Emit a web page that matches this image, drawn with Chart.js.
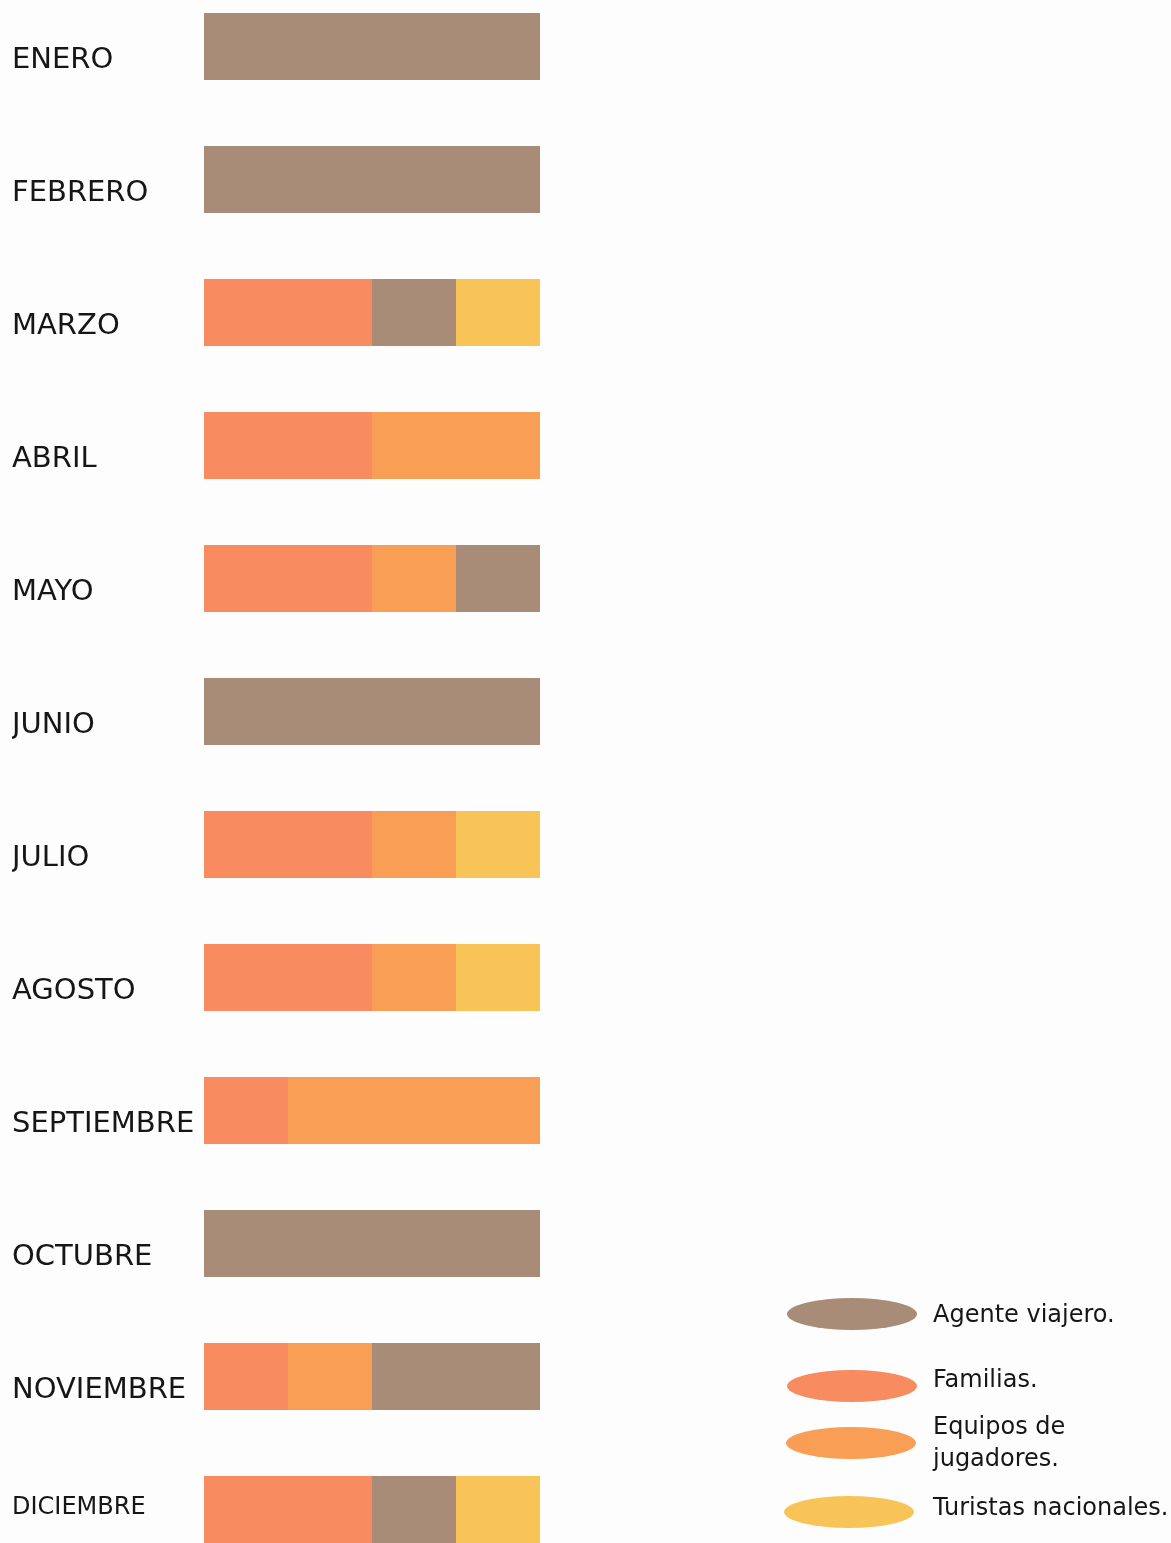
<!DOCTYPE html>
<html>
<head>
<meta charset="utf-8">
<script src="https://cdn.jsdelivr.net/npm/chart.js@4"></script>
<style>
html,body{margin:0;padding:0;width:1171px;height:1543px;overflow:hidden;background:#fdfdfd;}
#wrap{position:absolute;left:0;top:-20px;width:1171px;height:1596px;}
</style>
</head>
<body>
<div id="wrap"><canvas id="c"></canvas></div>
<script>
const months = ['ENERO','FEBRERO','MARZO','ABRIL','MAYO','JUNIO','JULIO','AGOSTO','SEPTIEMBRE','OCTUBRE','NOVIEMBRE','DICIEMBRE'];
const familias  = [0,0,2,2,2,0,2,2,1,0,1,2];
const equipos   = [0,0,0,2,1,0,1,1,3,0,1,0];
const agente    = [4,4,1,0,1,4,0,0,0,4,2,1];
const turistas  = [0,0,1,0,0,0,1,1,0,0,0,1];
const legendOrder = ['Agente viajero.','Familias.',['Equipos de','jugadores.'],'Turistas nacionales.'];

const COL_AGENTE = '#a88c78';
const COL_FAM = '#f88c60';
const COL_EQ = '#f99f55';
const COL_TUR = '#f8c458';
const FONT = '"DejaVu Sans", sans-serif';
const SHIFT = 20;

const legendPlugin = {
  id: 'ovalLegend',
  afterDraw(chart) {
    const ctx = chart.ctx;
    const items = [
      {ds: 2, cy: 1314, cx: 852, ty: [1316]},
      {ds: 0, cy: 1386, cx: 852, ty: [1381]},
      {ds: 1, cy: 1443, cx: 851, ty: [1428, 1460]},
      {ds: 3, cy: 1512, cx: 849, ty: [1509]}
    ];
    const map = {0:1, 1:2, 2:0, 3:3};
    ctx.save();
    items.forEach((it) => {
      const ds = chart.data.datasets[it.ds];
      ctx.fillStyle = ds.backgroundColor;
      ctx.beginPath();
      ctx.ellipse(it.cx, it.cy + SHIFT, 65, 16, 0, 0, Math.PI * 2);
      ctx.fill();
      const txt = legendOrder[map[it.ds]];
      const lines = Array.isArray(txt) ? txt : [txt];
      ctx.fillStyle = '#161616';
      ctx.font = '24px ' + FONT;
      ctx.textAlign = 'left';
      ctx.textBaseline = 'middle';
      lines.forEach((l, i) => ctx.fillText(l, 933, it.ty[i] + SHIFT));
    });
    ctx.restore();
  }
};

new Chart(document.getElementById('c'), {
  type: 'bar',
  data: {
    labels: months,
    datasets: [
      {label: 'Familias.', data: familias, backgroundColor: COL_FAM},
      {label: 'Equipos de jugadores.', data: equipos, backgroundColor: COL_EQ},
      {label: 'Agente viajero.', data: agente, backgroundColor: COL_AGENTE},
      {label: 'Turistas nacionales.', data: turistas, backgroundColor: COL_TUR}
    ]
  },
  options: {
    indexAxis: 'y',
    responsive: true,
    maintainAspectRatio: false,
    animation: false,
    layout: {padding: {left: 12, right: 631, top: 0, bottom: 0}},
    datasets: {bar: {barPercentage: 1, categoryPercentage: 0.504, borderWidth: 0}},
    plugins: {legend: {display: false}, tooltip: {enabled: false}},
    scales: {
      x: {stacked: true, min: 0, max: 4, display: false},
      y: {
        stacked: true,
        grid: {display: false, drawTicks: false},
        border: {display: false},
        afterFit(scale) { scale.width = 192; scale.paddingTop = 0; scale.paddingBottom = 0; },
        ticks: {
          crossAlign: 'far',
          labelOffset: 14,
          color: '#161616',
          callback: (v, i) => i === 11 ? [months[i], ''] : months[i],
          font: (c) => c.index === 11 ? {family: FONT, size: 24, lineHeight: '32px'} : {family: FONT, size: 29}
        }
      }
    }
  },
  plugins: [legendPlugin]
});
</script>
</body>
</html>
